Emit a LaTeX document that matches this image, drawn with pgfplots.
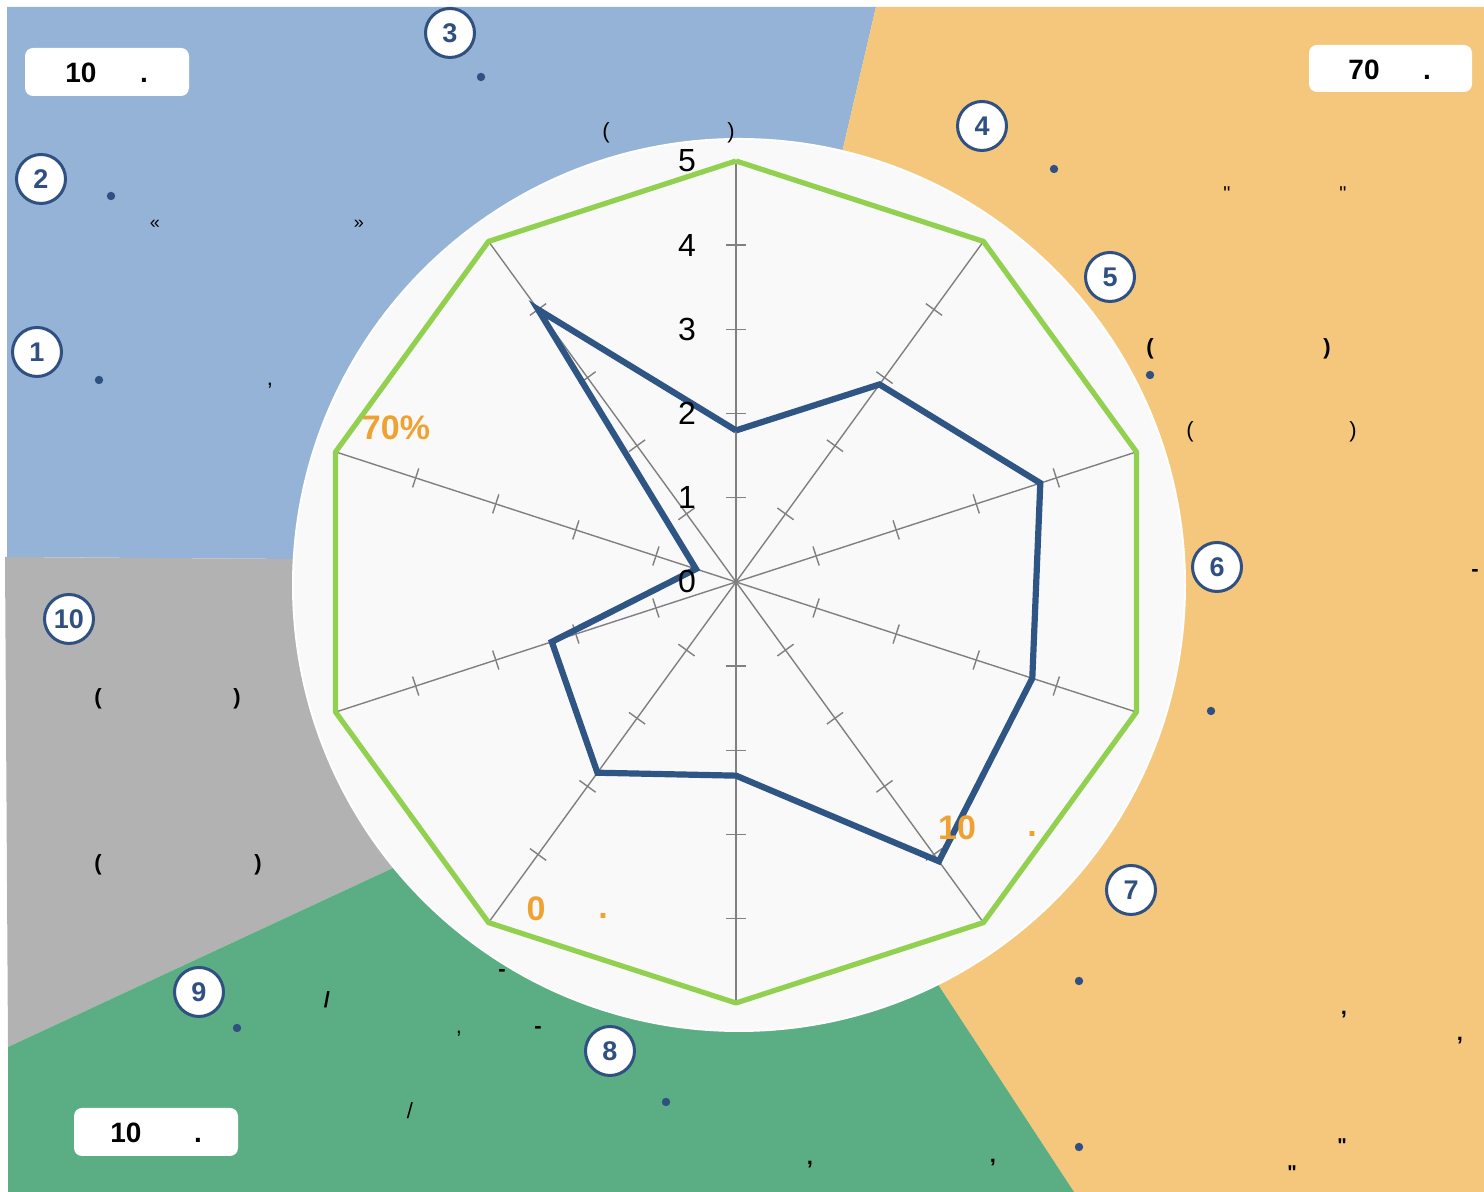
\documentclass[border=0pt]{standalone}
\usepackage{fontspec}
\setmainfont{Liberation Sans}
\newfontfamily\qfont{Liberation Sans}[Ligatures=ResetAll]
\usepackage{pgfplots}
\pgfplotsset{compat=1.18}
\definecolor{bgblue}{HTML}{95B3D7}
\definecolor{bgorange}{HTML}{F4C77C}
\definecolor{bggray}{HTML}{B2B2B2}
\definecolor{bggreen}{HTML}{5BAE83}
\definecolor{circfill}{HTML}{F9F9F9}
\definecolor{cblue}{HTML}{2F5080}
\definecolor{dataline}{HTML}{2E5583}
\definecolor{gline}{HTML}{92D050}
\definecolor{spoke}{HTML}{808080}
\definecolor{otext}{HTML}{EFA232}
\newcommand{\cnum}[3]{\node[circle, draw=cblue, line width=1.5pt, fill=white, minimum size=24.5pt, inner sep=0pt, font=\bfseries\fontsize{13.5}{13.5}\selectfont, text=cblue] at (#1,#2) {#3};}
\newcommand{\bdot}[2]{\fill[cblue] (#1,#2) circle[radius=2.1pt];}
\newcommand{\pt}[3]{\node[inner sep=0pt, font=\fontsize{11}{11}\selectfont] at (#1,#2) {#3};}
\newcommand{\pb}[3]{\node[inner sep=0pt, font=\bfseries\fontsize{11}{11}\selectfont] at (#1,#2) {#3};}
\begin{document}
\begin{tikzpicture}
% ---------- background (pixel coordinates, origin top-left) ----------
\begin{scope}[x=0.5pt,y=-0.5pt,shift={(0pt,596pt)}]
  \fill[bgblue] (7,7) -- (876,7) -- (740,590) -- (300,559) -- (7,557) -- cycle;
  \fill[bgorange] (876,7) -- (1484,7) -- (1484,1192) -- (1074,1192) -- (939,986) -- (740,590) -- cycle;
  \fill[bggray] (5,557) -- (300,559) -- (740,590) -- (393,868) -- (8,1047) -- cycle;
  \fill[bggreen] (8,1047) -- (393,868) -- (740,590) -- (939,986) -- (1074,1192) -- (8,1192) -- cycle;
  \fill[circfill, draw=white, line width=1pt] (739,585) circle[radius=223pt];
\end{scope}
% ---------- spoke ticks ----------
\begin{scope}[shift={(368pt,305pt)}]
  \foreach \a in {90,54,18,-18,-54,-90,-126,-162,162,126} {
    \foreach \r in {1,2,3,4} {
      \draw[spoke, line width=0.7pt, rotate=\a] (\r*42.1pt,-5pt) -- (\r*42.1pt,5pt);
    }
  }
\end{scope}
% ---------- radar ----------
\begin{axis}[anchor=origin, at={(368pt,305pt)}, x=42.1pt, y=42.1pt,
  xmin=-5.5, xmax=5.5, ymin=-5.5, ymax=5.5, hide axis, clip=false]
  \pgfplotsinvokeforeach{90,54,18,-18,-54,-90,-126,-162,162,126}{
    \addplot[spoke, line width=0.7pt, data cs=polar, forget plot] coordinates {(#1,0) (#1,5)};
  }
  \addplot[gline, line width=2.6pt, line join=round, data cs=polar] coordinates {
    (90,5) (54,5) (18,5) (-18,5) (-54,5) (-90,5) (-126,5) (-162,5) (162,5) (126,5) (90,5)};
  \addplot[dataline, line width=3.1pt, line join=miter, data cs=polar] coordinates {
    (90,1.8) (54,2.9) (18,3.8) (-18,3.7) (-54,4.1) (-90,2.3) (-126,2.8) (-162,2.3) (162,0.5) (126,4.0) (90,1.8)};
\end{axis}
% ---------- annotations ----------
\begin{scope}[x=0.5pt,y=-0.5pt,shift={(0pt,596pt)}]
  \foreach \k in {0,...,5} {
    \node[inner sep=0pt, font=\fontsize{16}{16}\selectfont] at (687,{582-84.2*\k}) {\k};
  }
  % boxes
  \fill[white, rounded corners=4pt] (25,48) rectangle (189,96);
  \fill[white, rounded corners=4pt] (1309,45) rectangle (1472,92);
  \fill[white, rounded corners=4pt] (74,1108) rectangle (238,1156);
  \node[anchor=base, inner sep=0pt, font=\bfseries\fontsize{14}{14}\selectfont] at (81,83) {10};
  \node[anchor=base, inner sep=0pt, font=\bfseries\fontsize{14}{14}\selectfont] at (144,83) {.};
  \node[anchor=base, inner sep=0pt, font=\bfseries\fontsize{14}{14}\selectfont] at (1364,80) {70};
  \node[anchor=base, inner sep=0pt, font=\bfseries\fontsize{14}{14}\selectfont] at (1427,80) {.};
  \node[anchor=base, inner sep=0pt, font=\bfseries\fontsize{14}{14}\selectfont] at (126,1143) {10};
  \node[anchor=base, inner sep=0pt, font=\bfseries\fontsize{14}{14}\selectfont] at (198,1143) {.};
  % circled numbers
  \cnum{37}{352}{1}
  \cnum{41}{179}{2}
  \cnum{450}{33}{3}
  \cnum{982}{126}{4}
  \cnum{1110}{277}{5}
  \cnum{1217}{567}{6}
  \cnum{1131}{890}{7}
  \cnum{610}{1051}{8}
  \cnum{199}{992}{9}
  \cnum{69}{619}{10}
  % bullets
  \bdot{481}{77} \bdot{111}{196} \bdot{99}{380} \bdot{1054}{169} \bdot{1150}{375}
  \bdot{1211}{711} \bdot{1079}{981} \bdot{1079}{1147} \bdot{666}{1102} \bdot{237}{1028}
  % punctuation remnants
  \node[inner sep=0pt, font=\fontsize{9}{9}\selectfont] at (155,224) {«};
  \node[inner sep=0pt, font=\fontsize{9}{9}\selectfont] at (359,224) {»};
  \pt{270}{386}{,}
  \pt{606}{133}{(} \pt{731}{133}{)}
  \node[anchor=north, inner sep=0pt, font=\qfont\fontsize{10}{10}\selectfont] at (1227,186) {"};
  \node[anchor=north, inner sep=0pt, font=\qfont\fontsize{10}{10}\selectfont] at (1343,186) {"};
  \pb{1150}{349}{(} \pb{1327}{349}{)}
  \pt{1190}{432}{(} \pt{1353}{432}{)}
  \pb{1475}{573}{-}
  \pb{98}{699}{(} \pb{237}{699}{)}
  \pb{98}{865}{(} \pb{258}{865}{)}
  \pb{502}{973}{-}
  \pb{327}{1000}{/}
  \pt{459}{1034}{,}
  \pb{538}{1030}{-}
  \pt{410}{1111}{/}
  \pb{1344}{1015}{,}
  \pb{1460}{1041}{,}
  \node[anchor=north, inner sep=0pt, font=\qfont\bfseries\fontsize{10}{10}\selectfont] at (1342,1138) {"};
  \node[anchor=north, inner sep=0pt, font=\qfont\bfseries\fontsize{10}{10}\selectfont] at (1292,1165) {"};
  \pb{810}{1165}{,}
  \pb{993}{1163}{,}
  % orange labels
  \node[inner sep=0pt, text=otext, font=\bfseries\fontsize{17}{17}\selectfont] at (396,428) {70\%};
  \node[inner sep=0pt, text=otext, font=\bfseries\fontsize{17}{17}\selectfont] at (957,828) {10};
  \node[inner sep=0pt, text=otext, font=\bfseries\fontsize{17}{17}\selectfont] at (1032,834) {.};
  \node[inner sep=0pt, text=otext, font=\bfseries\fontsize{17}{17}\selectfont] at (536,909) {0};
  \node[inner sep=0pt, text=otext, font=\bfseries\fontsize{17}{17}\selectfont] at (603,916) {.};
\end{scope}
\pgfresetboundingbox
\path[use as bounding box] (0,0) rectangle (742pt,596pt);
\end{tikzpicture}
\end{document}
